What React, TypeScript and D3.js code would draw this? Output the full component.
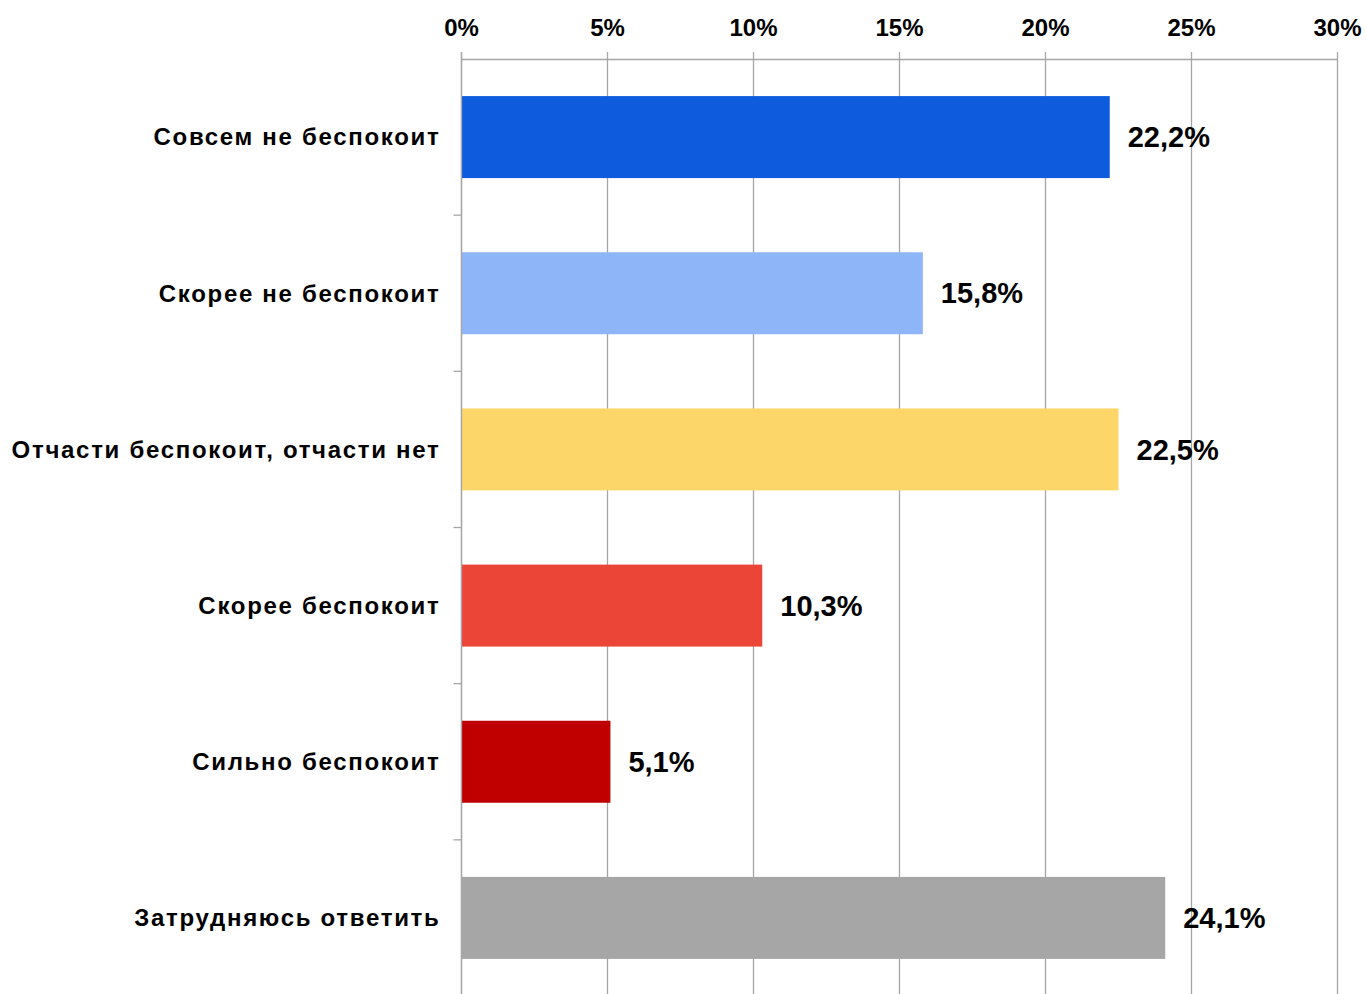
import React, { useRef, useEffect } from 'react';
import * as d3 from 'd3';

const categories = [
  'Совсем не беспокоит',
  'Скорее не беспокоит',
  'Отчасти беспокоит, отчасти нет',
  'Скорее беспокоит',
  'Сильно беспокоит',
  'Затрудняюсь ответить',
];
const values = [22.2, 15.8, 22.5, 10.3, 5.1, 24.1];
const colors = ['#0E5BDD', '#8FB5F9', '#FDD66A', '#EA4536', '#C00000', '#A6A6A6'];
const xTicks = [0, 5, 10, 15, 20, 25, 30];

const App = () => {
  const ref = useRef<SVGSVGElement>(null);

  useEffect(() => {
    const svg = d3.select(ref.current);
    svg.selectAll('*').remove();
    const font = 'Liberation Sans, Arial, sans-serif';

    const x = d3.scaleLinear().domain([0, 30]).range([461.5, 1337.5]);
    const y = d3.scaleBand().domain(categories).range([59, 996]).paddingInner(0.475).paddingOuter(0.2375);

    // vertical gridlines, with little tick stubs above the top axis line
    svg
      .append('g')
      .selectAll('line')
      .data(xTicks)
      .enter()
      .append('line')
      .attr('x1', (d) => x(d))
      .attr('x2', (d) => x(d))
      .attr('y1', 52)
      .attr('y2', 1000)
      .attr('stroke', '#a6a6a6')
      .attr('stroke-width', 1.3);

    // top axis line
    svg
      .append('line')
      .attr('x1', x(0))
      .attr('x2', x(30))
      .attr('y1', 59.5)
      .attr('y2', 59.5)
      .attr('stroke', '#a6a6a6')
      .attr('stroke-width', 1.3);

    // x tick labels
    svg
      .append('g')
      .selectAll('text')
      .data(xTicks)
      .enter()
      .append('text')
      .attr('x', (d) => x(d))
      .attr('y', 36)
      .attr('text-anchor', 'middle')
      .style('font-family', font)
      .style('font-weight', 'bold')
      .style('font-size', '24px')
      .attr('fill', '#000')
      .text((d) => d + '%');

    // category tick marks between bands
    const step = y.step();
    svg
      .append('g')
      .selectAll('line')
      .data(categories.slice(1))
      .enter()
      .append('line')
      .attr('x1', x(0) - 8)
      .attr('x2', x(0))
      .attr('y1', (d) => y(d)! - (step - y.bandwidth()) / 2)
      .attr('y2', (d) => y(d)! - (step - y.bandwidth()) / 2)
      .attr('stroke', '#a6a6a6')
      .attr('stroke-width', 1.3);

    // bars
    svg
      .append('g')
      .selectAll('rect')
      .data(values)
      .enter()
      .append('rect')
      .attr('x', x(0))
      .attr('y', (d, i) => y(categories[i])!)
      .attr('width', (d) => x(d) - x(0))
      .attr('height', y.bandwidth())
      .attr('fill', (d, i) => colors[i]);

    // category labels (wide letter spacing like the original)
    svg
      .append('g')
      .selectAll('text')
      .data(categories)
      .enter()
      .append('text')
      .attr('x', 440.5)
      .attr('y', (d) => y(d)! + y.bandwidth() / 2)
      .attr('dy', '0.35em')
      .attr('text-anchor', 'end')
      .style('font-family', font)
      .style('font-weight', 'bold')
      .style('font-size', '24px')
      .style('letter-spacing', '1.7px')
      .attr('fill', '#000')
      .text((d) => d);

    // value labels
    svg
      .append('g')
      .selectAll('text')
      .data(values)
      .enter()
      .append('text')
      .attr('x', (d) => x(d) + 18)
      .attr('y', (d, i) => y(categories[i])! + y.bandwidth() / 2)
      .attr('dy', '0.35em')
      .style('font-family', font)
      .style('font-weight', 'bold')
      .style('font-size', '29px')
      .attr('fill', '#000')
      .text((d) => d.toFixed(1).replace('.', ',') + '%');

    // left axis line drawn last so it sits over the bars' edge
    svg
      .append('line')
      .attr('x1', x(0))
      .attr('x2', x(0))
      .attr('y1', 52)
      .attr('y2', 1000)
      .attr('stroke', '#a6a6a6')
      .attr('stroke-width', 1.3);
  }, []);

  return (
    <svg
      ref={ref}
      width={1366}
      height={994}
      style={{ position: 'absolute', left: 0, top: 0, background: '#fff' }}
    />
  );
};

export default App;
